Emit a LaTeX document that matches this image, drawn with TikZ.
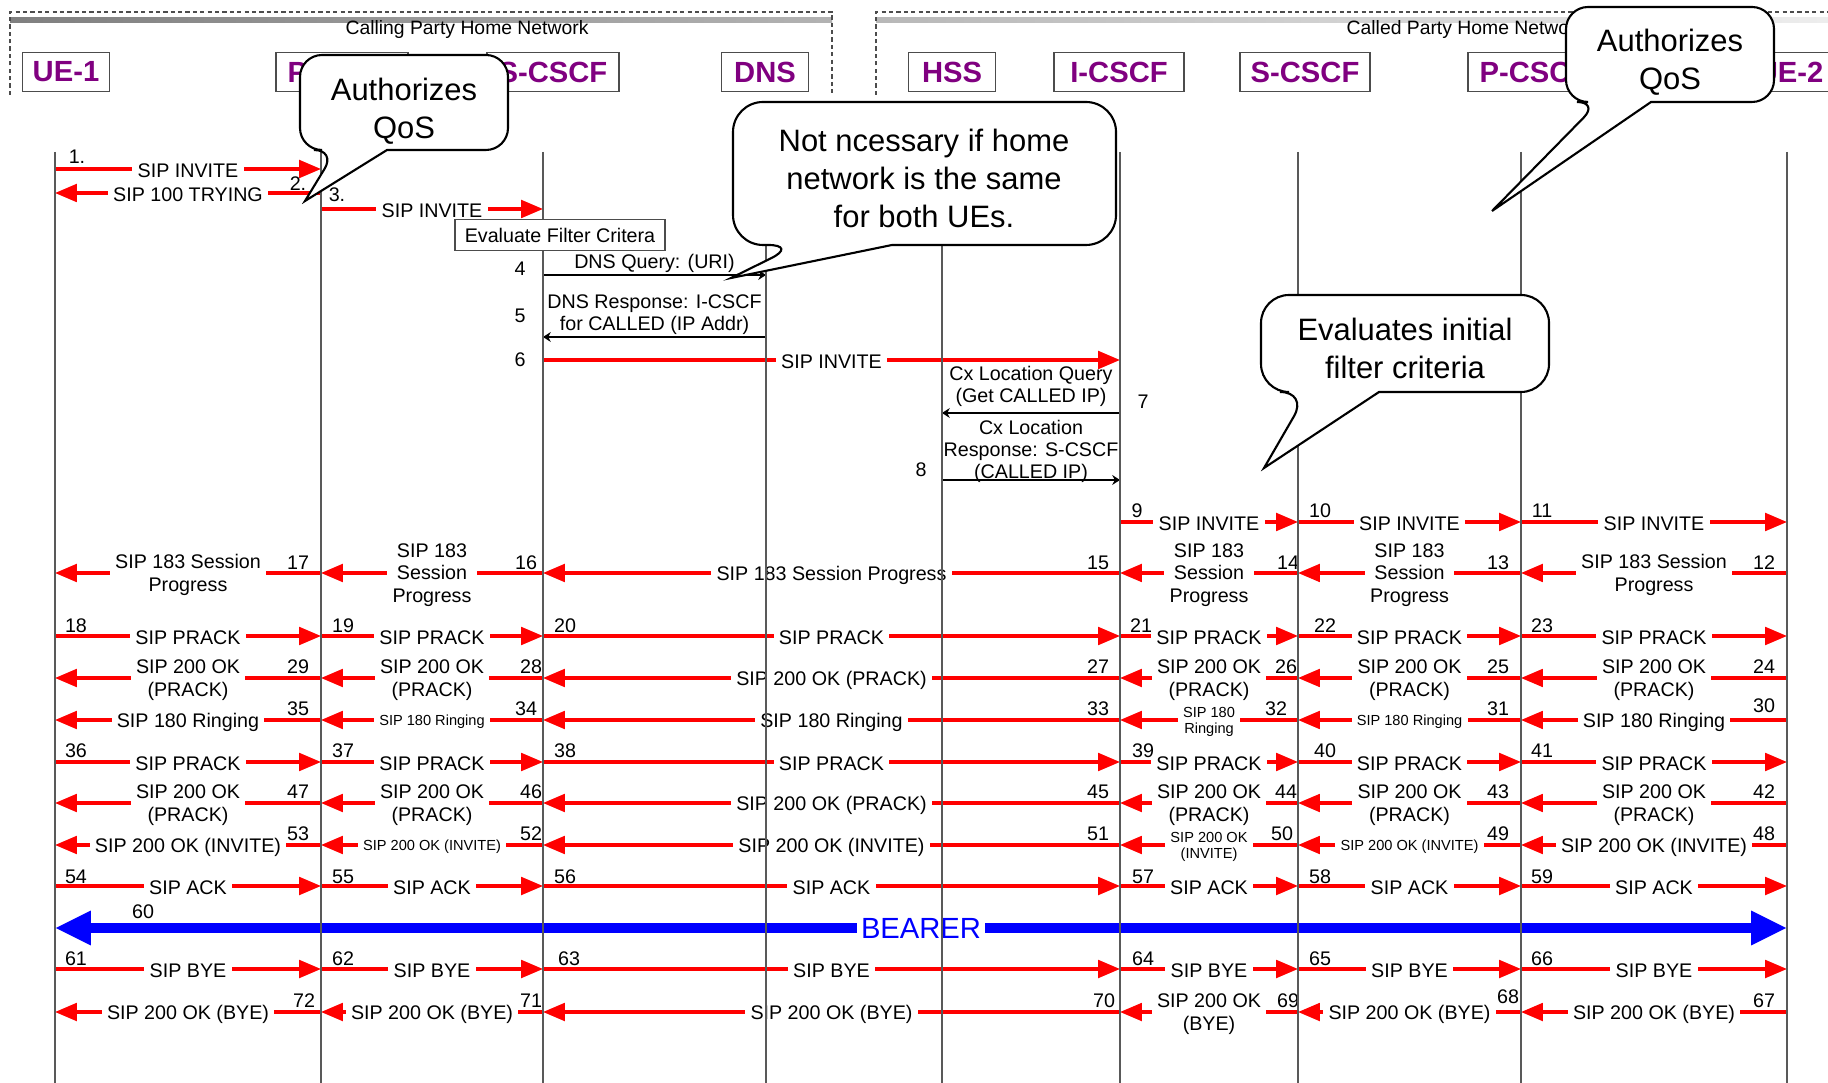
\documentclass[tikz,border=0pt]{standalone}
\usepackage{fontspec}
\setmainfont{Liberation Sans}
\usetikzlibrary{arrows.meta}

\definecolor{hdrpurple}{RGB}{128,0,128}

\tikzset{
  head/.style={draw=black!70, fill=white, line width=0.4pt, minimum height=0.39cm, inner sep=0pt,
    text=hdrpurple, font=\fontsize{8.3}{9}\selectfont\bfseries},
  net/.style={inner sep=0pt, font=\fontsize{5.5}{6}\selectfont},
  frame/.style={draw=black!70, line width=0.4pt, dash pattern=on 1.2pt off 0.9pt},
  life/.style={draw=black!65, line width=0.35pt},
  sip/.style={draw=red, line width=0.9pt, -{Triangle[length=6.2pt,width=5pt]}},
  dia/.style={draw=black, line width=0.35pt, -{Stealth[length=2.2pt,width=2.8pt]}},
  bearer/.style={draw=blue, line width=2.85pt,
    {Triangle[length=10.2pt,width=9.1pt]}-{Triangle[length=10.2pt,width=9.1pt]}},
  lbl/.style={fill=white, inner xsep=1.5pt, inner ysep=0.2pt, yshift=-0.6pt, align=center,
    font=\fontsize{5.6}{6.4}\selectfont},
  slbl/.style={lbl, font=\fontsize{4.15}{4.4}\selectfont},
  dlbl/.style={above, inner sep=0.6pt, align=center, font=\fontsize{5.6}{6.2}\selectfont},
  blbl/.style={fill=white, inner xsep=1pt, inner ysep=0pt, text=blue, font=\fontsize{8.3}{9}\selectfont},
  num/.style={inner sep=0pt, font=\fontsize{5.6}{6.2}\selectfont},
  evalbox/.style={draw=black!70, fill=white, line width=0.4pt, minimum width=2.1cm, minimum height=0.31cm,
    inner sep=0pt, font=\fontsize{5.6}{6.2}\selectfont},
  bubble/.style={draw=black, line width=0.6pt, fill=white},
  bubbletxt/.style={align=center, inner sep=0pt, font=\fontsize{8.8}{10.8}\selectfont},
}

\begin{document}
\begin{tikzpicture}[x=0.01cm,y=-0.01cm]
\useasboundingbox (0,0) rectangle (1828,1083);

% home networks
\shade[left color=black!50, right color=black!30] (10,18) rectangle (832,23);
\shade[left color=black!28, right color=black!7] (876,18) rectangle (1828,23);
\draw[frame] (10,95) -- (10,12) -- (832,12) -- (832,95);
\draw[frame] (876,95) -- (876,12) -- (1828,12);
\node[net] (calling) at (467,30) {Calling Party Home Network};
\node[net, anchor=west] (called) at (1346,30) {Called Party Home Network};

% entities
\node[head, minimum width=0.87cm] (hue1) at (66,72) {UE-1};
\node[head, minimum width=1.32cm] (hpc1) at (342,72) {P-CSCF};
\node[head, minimum width=1.32cm] (hsc1) at (553,72) {S-CSCF};
\node[head, minimum width=0.87cm] (hdns) at (765,72) {DNS};
\node[head, minimum width=0.87cm] (hhss) at (952,72) {HSS};
\node[head, minimum width=1.30cm] (hic) at (1119,72) {I-CSCF};
\node[head, minimum width=1.30cm] (hsc2) at (1305,72) {S-CSCF};
\node[head, minimum width=1.32cm] (hpc2) at (1534,72) {P-CSCF};
\node[head, minimum width=0.87cm] (hue2) at (1790,72) {UE-2};

\coordinate (ue1) at (55,152);
\coordinate (pc1) at (321,152);
\coordinate (sc1) at (543,152);
\coordinate (dns) at (766,152);
\coordinate (hss) at (942,152);
\coordinate (ic) at (1120,152);
\coordinate (sc2) at (1298,152);
\coordinate (pc2) at (1521,152);
\coordinate (ue2) at (1787,152);

% invite
\draw[sip] (ue1 |- 0,169) -- node[lbl] (m1) {SIP INVITE} (pc1 |- 0,169); \node[num] (n1) at (77,157) {1.};
\draw[sip] (pc1 |- 0,193) -- node[lbl] (m2) {SIP 100 TRYING} (ue1 |- 0,193); \node[num] (n2) at (298,184) {2.};
\draw[sip] (pc1 |- 0,209) -- node[lbl] (m3) {SIP INVITE} (sc1 |- 0,209); \node[num] (n3) at (337,195) {3.};
\draw[dia] (sc1 |- 0,275) -- node[dlbl] (m4) {DNS Query: (URI)} (dns |- 0,275); \node[num] (n4) at (520,269) {4};
\draw[dia] (dns |- 0,337) -- node[dlbl] (m5) {DNS Response: I-CSCF\\for CALLED (IP Addr)} (sc1 |- 0,337); \node[num] (n5) at (520,316) {5};
\draw[sip] (sc1 |- 0,360) -- node[lbl] (m6) {SIP INVITE} (ic |- 0,360); \node[num] (n6) at (520,360) {6};
\draw[dia] (ic |- 0,413) -- node[dlbl, yshift=1pt] (m7) {Cx Location Query\\(Get CALLED IP)} (hss |- 0,413); \node[num] (n7) at (1143,402) {7};
\draw[dia] (hss |- 0,480) -- node[dlbl, yshift=-1.4pt] (m8) {Cx Location\\Response: S-CSCF\\(CALLED IP)} (ic |- 0,480); \node[num] (n8) at (921,470) {8};
\draw[sip] (ic |- 0,522) -- node[lbl] (m9) {SIP INVITE} (sc2 |- 0,522); \node[num] (n9) at (1137,511) {9};
\draw[sip] (sc2 |- 0,522) -- node[lbl] (m10) {SIP INVITE} (pc2 |- 0,522); \node[num] (n10) at (1320,511) {10};
\draw[sip] (pc2 |- 0,522) -- node[lbl] (m11) {SIP INVITE} (ue2 |- 0,522); \node[num] (n11) at (1542,511) {11};

% session progress
\draw[sip] (ue2 |- 0,573) -- node[lbl] (m12) {SIP 183 Session\\Progress} (pc2 |- 0,573); \node[num] (n12) at (1764,563) {12};
\draw[sip] (pc2 |- 0,573) -- node[lbl] (m13) {SIP 183\\Session\\Progress} (sc2 |- 0,573); \node[num] (n13) at (1498,563) {13};
\draw[sip] (sc2 |- 0,573) -- node[lbl] (m14) {SIP 183\\Session\\Progress} (ic |- 0,573); \node[num] (n14) at (1288,563) {14};
\draw[sip] (ic |- 0,573) -- node[lbl] (m15) {SIP 183 Session Progress} (sc1 |- 0,573); \node[num] (n15) at (1098,563) {15};
\draw[sip] (sc1 |- 0,573) -- node[lbl] (m16) {SIP 183\\Session\\Progress} (pc1 |- 0,573); \node[num] (n16) at (526,563) {16};
\draw[sip] (pc1 |- 0,573) -- node[lbl] (m17) {SIP 183 Session\\Progress} (ue1 |- 0,573); \node[num] (n17) at (298,563) {17};

% prack
\draw[sip] (ue1 |- 0,636) -- node[lbl] (m18) {SIP PRACK} (pc1 |- 0,636); \node[num] (n18) at (76,626) {18};
\draw[sip] (pc1 |- 0,636) -- node[lbl] (m19) {SIP PRACK} (sc1 |- 0,636); \node[num] (n19) at (343,626) {19};
\draw[sip] (sc1 |- 0,636) -- node[lbl] (m20) {SIP PRACK} (ic |- 0,636); \node[num] (n20) at (565,626) {20};
\draw[sip] (ic |- 0,636) -- node[lbl] (m21) {SIP PRACK} (sc2 |- 0,636); \node[num] (n21) at (1141,626) {21};
\draw[sip] (sc2 |- 0,636) -- node[lbl] (m22) {SIP PRACK} (pc2 |- 0,636); \node[num] (n22) at (1325,626) {22};
\draw[sip] (pc2 |- 0,636) -- node[lbl] (m23) {SIP PRACK} (ue2 |- 0,636); \node[num] (n23) at (1542,626) {23};

\draw[sip] (ue2 |- 0,678) -- node[lbl] (m24) {SIP 200 OK\\(PRACK)} (pc2 |- 0,678); \node[num] (n24) at (1764,667) {24};
\draw[sip] (pc2 |- 0,678) -- node[lbl] (m25) {SIP 200 OK\\(PRACK)} (sc2 |- 0,678); \node[num] (n25) at (1498,667) {25};
\draw[sip] (sc2 |- 0,678) -- node[lbl] (m26) {SIP 200 OK\\(PRACK)} (ic |- 0,678); \node[num] (n26) at (1286,667) {26};
\draw[sip] (ic |- 0,678) -- node[lbl] (m27) {SIP 200 OK (PRACK)} (sc1 |- 0,678); \node[num] (n27) at (1098,667) {27};
\draw[sip] (sc1 |- 0,678) -- node[lbl] (m28) {SIP 200 OK\\(PRACK)} (pc1 |- 0,678); \node[num] (n28) at (531,667) {28};
\draw[sip] (pc1 |- 0,678) -- node[lbl] (m29) {SIP 200 OK\\(PRACK)} (ue1 |- 0,678); \node[num] (n29) at (298,667) {29};

% ringing
\draw[sip] (ue2 |- 0,720) -- node[lbl] (m30) {SIP 180 Ringing} (pc2 |- 0,720); \node[num] (n30) at (1764,706) {30};
\draw[sip] (pc2 |- 0,720) -- node[slbl] (m31) {SIP 180 Ringing} (sc2 |- 0,720); \node[num] (n31) at (1498,709) {31};
\draw[sip] (sc2 |- 0,720) -- node[slbl] (m32) {SIP 180\\Ringing} (ic |- 0,720); \node[num] (n32) at (1276,709) {32};
\draw[sip] (ic |- 0,720) -- node[lbl] (m33) {SIP 180 Ringing} (sc1 |- 0,720); \node[num] (n33) at (1098,709) {33};
\draw[sip] (sc1 |- 0,720) -- node[slbl] (m34) {SIP 180 Ringing} (pc1 |- 0,720); \node[num] (n34) at (526,709) {34};
\draw[sip] (pc1 |- 0,720) -- node[lbl] (m35) {SIP 180 Ringing} (ue1 |- 0,720); \node[num] (n35) at (298,709) {35};

\draw[sip] (ue1 |- 0,762) -- node[lbl] (m36) {SIP PRACK} (pc1 |- 0,762); \node[num] (n36) at (76,751) {36};
\draw[sip] (pc1 |- 0,762) -- node[lbl] (m37) {SIP PRACK} (sc1 |- 0,762); \node[num] (n37) at (343,751) {37};
\draw[sip] (sc1 |- 0,762) -- node[lbl] (m38) {SIP PRACK} (ic |- 0,762); \node[num] (n38) at (565,751) {38};
\draw[sip] (ic |- 0,762) -- node[lbl] (m39) {SIP PRACK} (sc2 |- 0,762); \node[num] (n39) at (1143,751) {39};
\draw[sip] (sc2 |- 0,762) -- node[lbl] (m40) {SIP PRACK} (pc2 |- 0,762); \node[num] (n40) at (1325,751) {40};
\draw[sip] (pc2 |- 0,762) -- node[lbl] (m41) {SIP PRACK} (ue2 |- 0,762); \node[num] (n41) at (1542,751) {41};

\draw[sip] (ue2 |- 0,803) -- node[lbl] (m42) {SIP 200 OK\\(PRACK)} (pc2 |- 0,803); \node[num] (n42) at (1764,792) {42};
\draw[sip] (pc2 |- 0,803) -- node[lbl] (m43) {SIP 200 OK\\(PRACK)} (sc2 |- 0,803); \node[num] (n43) at (1498,792) {43};
\draw[sip] (sc2 |- 0,803) -- node[lbl] (m44) {SIP 200 OK\\(PRACK)} (ic |- 0,803); \node[num] (n44) at (1286,792) {44};
\draw[sip] (ic |- 0,803) -- node[lbl] (m45) {SIP 200 OK (PRACK)} (sc1 |- 0,803); \node[num] (n45) at (1098,792) {45};
\draw[sip] (sc1 |- 0,803) -- node[lbl] (m46) {SIP 200 OK\\(PRACK)} (pc1 |- 0,803); \node[num] (n46) at (531,792) {46};
\draw[sip] (pc1 |- 0,803) -- node[lbl] (m47) {SIP 200 OK\\(PRACK)} (ue1 |- 0,803); \node[num] (n47) at (298,792) {47};

% answer
\draw[sip] (ue2 |- 0,845) -- node[lbl] (m48) {SIP 200 OK (INVITE)} (pc2 |- 0,845); \node[num] (n48) at (1764,834) {48};
\draw[sip] (pc2 |- 0,845) -- node[slbl] (m49) {SIP 200 OK (INVITE)} (sc2 |- 0,845); \node[num] (n49) at (1498,834) {49};
\draw[sip] (sc2 |- 0,845) -- node[slbl] (m50) {SIP 200 OK\\(INVITE)} (ic |- 0,845); \node[num] (n50) at (1282,834) {50};
\draw[sip] (ic |- 0,845) -- node[lbl] (m51) {SIP 200 OK (INVITE)} (sc1 |- 0,845); \node[num] (n51) at (1098,834) {51};
\draw[sip] (sc1 |- 0,845) -- node[slbl] (m52) {SIP 200 OK (INVITE)} (pc1 |- 0,845); \node[num] (n52) at (531,834) {52};
\draw[sip] (pc1 |- 0,845) -- node[lbl] (m53) {SIP 200 OK (INVITE)} (ue1 |- 0,845); \node[num] (n53) at (298,834) {53};

\draw[sip] (ue1 |- 0,886) -- node[lbl] (m54) {SIP ACK} (pc1 |- 0,886); \node[num] (n54) at (76,877) {54};
\draw[sip] (pc1 |- 0,886) -- node[lbl] (m55) {SIP ACK} (sc1 |- 0,886); \node[num] (n55) at (343,877) {55};
\draw[sip] (sc1 |- 0,886) -- node[lbl] (m56) {SIP ACK} (ic |- 0,886); \node[num] (n56) at (565,877) {56};
\draw[sip] (ic |- 0,886) -- node[lbl] (m57) {SIP ACK} (sc2 |- 0,886); \node[num] (n57) at (1143,877) {57};
\draw[sip] (sc2 |- 0,886) -- node[lbl] (m58) {SIP ACK} (pc2 |- 0,886); \node[num] (n58) at (1320,877) {58};
\draw[sip] (pc2 |- 0,886) -- node[lbl] (m59) {SIP ACK} (ue2 |- 0,886); \node[num] (n59) at (1542,877) {59};

% media
\draw[bearer] (ue1 |- 0,928) -- node[blbl] (m60) {BEARER} (ue2 |- 0,928); \node[num] (n60) at (143,912) {60};

% release
\draw[sip] (ue1 |- 0,969) -- node[lbl] (m61) {SIP BYE} (pc1 |- 0,969); \node[num] (n61) at (76,959) {61};
\draw[sip] (pc1 |- 0,969) -- node[lbl] (m62) {SIP BYE} (sc1 |- 0,969); \node[num] (n62) at (343,959) {62};
\draw[sip] (sc1 |- 0,969) -- node[lbl] (m63) {SIP BYE} (ic |- 0,969); \node[num] (n63) at (569,959) {63};
\draw[sip] (ic |- 0,969) -- node[lbl] (m64) {SIP BYE} (sc2 |- 0,969); \node[num] (n64) at (1143,959) {64};
\draw[sip] (sc2 |- 0,969) -- node[lbl] (m65) {SIP BYE} (pc2 |- 0,969); \node[num] (n65) at (1320,959) {65};
\draw[sip] (pc2 |- 0,969) -- node[lbl] (m66) {SIP BYE} (ue2 |- 0,969); \node[num] (n66) at (1542,959) {66};

\draw[sip] (ue2 |- 0,1012) -- node[lbl] (m67) {SIP 200 OK (BYE)} (pc2 |- 0,1012); \node[num] (n67) at (1764,1001) {67};
\draw[sip] (pc2 |- 0,1012) -- node[lbl] (m68) {SIP 200 OK (BYE)} (sc2 |- 0,1012); \node[num] (n68) at (1508,997) {68};
\draw[sip] (sc2 |- 0,1012) -- node[lbl] (m69) {SIP 200 OK\\(BYE)} (ic |- 0,1012); \node[num] (n69) at (1288,1001) {69};
\draw[sip] (ic |- 0,1012) -- node[lbl] (m70) {SIP 200 OK (BYE)} (sc1 |- 0,1012); \node[num] (n70) at (1104,1001) {70};
\draw[sip] (sc1 |- 0,1012) -- node[lbl] (m71) {SIP 200 OK (BYE)} (pc1 |- 0,1012); \node[num] (n71) at (531,1001) {71};
\draw[sip] (pc1 |- 0,1012) -- node[lbl] (m72) {SIP 200 OK (BYE)} (ue1 |- 0,1012); \node[num] (n72) at (304,1001) {72};

% lifelines
\draw[life] (ue1) -- (ue1 |- 0,1083);
\draw[life] (pc1) -- (pc1 |- 0,1083);
\draw[life] (sc1) -- (sc1 |- 0,1083);
\draw[life] (dns) -- (dns |- 0,1083);
\draw[life] (hss) -- (hss |- 0,1083);
\draw[life] (ic) -- (ic |- 0,1083);
\draw[life] (sc2) -- (sc2 |- 0,1083);
\draw[life] (pc2) -- (pc2 |- 0,1083);
\draw[life] (ue2) -- (ue2 |- 0,1083);

\node[evalbox] (efc) at (560,235) {Evaluate Filter Critera};

% callouts
\draw[bubble] (387,150) [rounded corners=0.22cm] -- (508,150) -- (508,55) -- (300,55) -- (300,150) -- (336,150) [sharp corners] -- (305,201) -- cycle;
\node[bubbletxt] (qos1) at (404,111) {Authorizes\\QoS};

\draw[bubble] (892,245) [rounded corners=0.3cm] -- (1116,245) -- (1116,102) -- (733,102) -- (733,245) -- (798,245) [sharp corners] -- (731,278) -- cycle;
\node[bubbletxt] (samenet) at (924,178) {Not ncessary if home\\network is the same\\for both UEs.};

\draw[bubble] (1651,102) [rounded corners=0.22cm] -- (1774,102) -- (1774,7) -- (1566,7) -- (1566,102) -- (1599,102) [sharp corners] -- (1492,211) -- cycle;
\node[bubbletxt] (qos2) at (1670,62) {Authorizes\\QoS};

\draw[bubble] (1379,392) [rounded corners=0.28cm] -- (1549,392) -- (1549,295) -- (1261,295) -- (1261,392) -- (1308,392) [sharp corners] -- (1264,468) -- cycle;
\node[bubbletxt] (ifc) at (1405,348) {Evaluates initial\\filter criteria};

\end{tikzpicture}
\end{document}
